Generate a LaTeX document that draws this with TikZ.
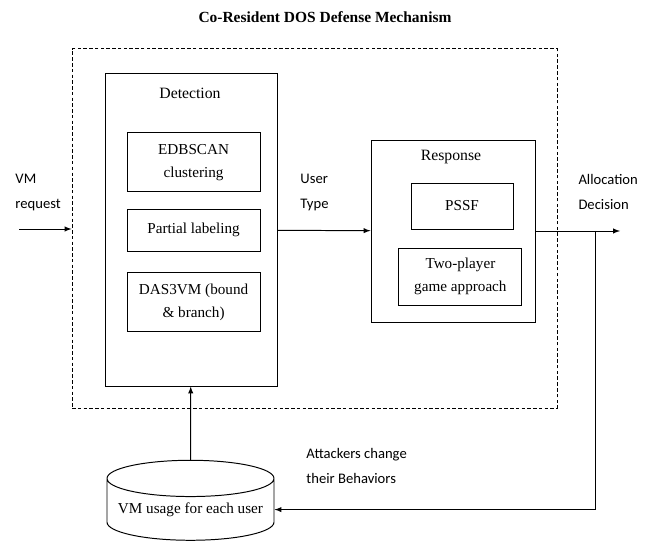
\documentclass[tikz,border=0pt]{standalone}
\usepackage{fontspec}
\setmainfont{Liberation Serif}
\newfontfamily\labelfont{Carlito}
\usetikzlibrary{shapes.geometric}

\tikzset{
	box/.style={draw, align=center, inner sep=0pt, font=\fontsize{10.8}{16.5}\selectfont},
	heading/.style={inner sep=0pt, font=\fontsize{11.2}{13}\selectfont},
	lbl/.style={anchor=west, align=left, inner sep=0pt, font=\labelfont\fontsize{10.4}{17.8}\selectfont}
}

\begin{document}
\begin{tikzpicture}[>=latex, line width=0.7pt]
				\useasboundingbox (0,0) rectangle (16.225,13.6);
				\node[font=\bfseries\fontsize{11}{13}\selectfont] (title) at (8.125,13.175) {Co-Resident DOS Defense Mechanism};
				\node[draw, dash pattern=on 2.5pt off 1.6pt, minimum width=12.125cm, minimum height=8.975cm] (defense) at (7.8625,7.8875) {};
				% detection part
				\node[box, minimum width=4.3cm, minimum height=7.8cm] (detection) at (4.775,7.85) {};
				\node[heading] (dettitle) at (4.75,11.275) {Detection};
				\node[box, minimum width=3.325cm, minimum height=1.475cm] (edbscan) at (4.84,9.54) {EDBSCAN\\clustering};
				\node[box, minimum width=3.325cm, minimum height=1.05cm] (partial) at (4.84,7.85) {Partial labeling};
				\node[box, minimum width=3.325cm, minimum height=1.475cm] (das3vm) at (4.84,6.04) {DAS3VM (bound\\\& branch)};
				% response part
				\node[box, minimum width=4.1cm, minimum height=4.55cm] (response) at (11.325,7.825) {};
				\node[heading] (restitle) at (11.275,9.675) {Response};
				\node[box, minimum width=2.55cm, minimum height=1.15cm] (pssf) at (11.55,8.45) {PSSF};
				\node[box, minimum width=3.075cm, minimum height=1.425cm] (game) at (11.51,6.6875) {Two-player\\game approach};
				% database
				\node[box, cylinder, shape border rotate=90, aspect=0.25, minimum width=4.175cm, minimum height=2cm] (usage) at (4.7625,0.86) {VM usage for each user};
				% labels
				\node[lbl] (vmreq) at (0.375,8.79) {VM\\request};
				\node[lbl] (usertype) at (7.5,8.79) {User\\Type};
				\node[lbl] (allocation) at (14.45,8.79) {Allocation\\Decision};
				\node[lbl] (attackers) at (7.65,1.95) {Attackers change\\their Behaviors};
				% arrows
				\coordinate (vmin) at (0.475,7.875);
				\coordinate (alloc) at (15.5,7.825);
				\coordinate (fb) at (14.875,7.825);
				\draw[->] (vmin) -- (vmin -| defense.west);
				\draw[->] (detection) -- (response);
				\draw[->] (response) -- (alloc);
				\draw[->] (fb) |- (usage.east);
				\draw[->] (usage) -- (detection);
\end{tikzpicture}
\end{document}
